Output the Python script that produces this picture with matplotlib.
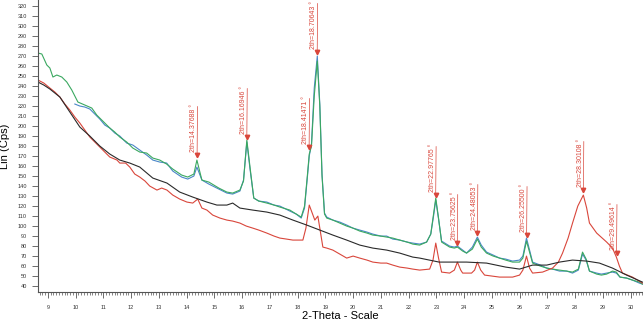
import numpy as np
import matplotlib.pyplot as plt
from matplotlib.ticker import MultipleLocator

plt.rcParams["font.family"] = "sans-serif"
plt.rcParams["font.sans-serif"] = ["Liberation Sans", "DejaVu Sans"]

RED = "#d9463b"
GREEN = "#3aa860"
BLUE = "#4a86c8"
BLACK = "#2a2a2a"

# scan 1 (green)
tt_green = [8.64, 8.78, 8.96, 9.07, 9.18, 9.32, 9.50, 9.68, 9.86, 10.08, 10.33, 10.58,
            10.76, 10.94, 11.05, 11.23, 11.41, 11.59, 11.84, 12.06, 12.31, 12.56, 12.78,
            13.03, 13.28, 13.50, 13.82, 14.04, 14.26, 14.37, 14.55, 14.80, 15.16, 15.45,
            15.66, 15.92, 16.05, 16.17, 16.28, 16.42, 16.60, 16.89, 17.15, 17.36, 17.72,
            17.95, 18.13, 18.25, 18.35, 18.42, 18.50, 18.60, 18.71, 18.80, 18.88, 18.97,
            19.05, 19.27, 19.52, 19.77, 19.99, 20.24, 20.50, 20.71, 21.00, 21.21, 21.43,
            21.68, 21.95, 22.15, 22.40, 22.65, 22.80, 22.90, 22.98, 23.08, 23.19, 23.48,
            23.65, 23.76, 23.95, 24.09, 24.30, 24.48, 24.62, 24.81, 25.05, 25.28, 25.50,
            25.75, 26.00, 26.12, 26.25, 26.38, 26.47, 26.75, 26.98, 27.19, 27.44, 27.70,
            27.91, 28.12, 28.27, 28.40, 28.52, 28.78, 28.95, 29.14, 29.35, 29.49, 29.62,
            29.86, 30.07, 30.32, 30.43]
cps_green = [273, 272, 261, 258, 249, 251, 249, 244, 236, 224, 221, 218,
             211, 206, 203, 198, 194, 189, 184, 178, 174, 173, 168,
             166, 162, 157, 151, 149, 152, 166, 146, 144, 138, 134,
             133, 136, 145, 186, 160, 128, 125, 123, 121, 119, 116,
             112, 109, 120, 150, 172, 180, 230, 265, 220, 150, 112,
             108, 106, 103, 100, 98, 95, 93, 91, 90, 89, 88,
             86, 84, 82, 81, 84, 92, 112, 128, 108, 84, 79,
             78, 79, 75, 73, 77, 87, 79, 73, 70, 68, 66,
             64, 64, 68, 85, 72, 63, 60, 58, 57, 56, 55,
             54, 57, 74, 67, 55, 52, 51, 52, 55, 54, 49,
             48, 46, 44, 42]

# scan 2 (blue)
tt_blue = [9.97, 10.15, 10.33, 10.51, 10.69, 10.87, 11.05, 11.23, 11.41, 11.59, 11.84,
           12.06, 12.31, 12.56, 12.78, 13.03, 13.28, 13.50, 13.82, 14.04, 14.26, 14.37,
           14.55, 14.80, 15.16, 15.45, 15.66, 15.92, 16.05, 16.17, 16.28, 16.42, 16.60,
           16.89, 17.15, 17.36, 17.72, 17.95, 18.13, 18.25, 18.35, 18.42, 18.50, 18.60,
           18.71, 18.80, 18.88, 18.97, 19.05, 19.27, 19.52, 19.77, 19.99, 20.24, 20.50,
           20.71, 21.00, 21.21, 21.43, 21.68, 21.95, 22.15, 22.40, 22.65, 22.80, 22.90,
           22.98, 23.08, 23.19, 23.48, 23.65, 23.76, 23.95, 24.09, 24.30, 24.48, 24.62,
           24.81, 25.05, 25.28, 25.50, 25.75, 26.00, 26.12, 26.25, 26.38, 26.47, 26.75,
           26.98, 27.19, 27.44, 27.70, 27.91, 28.12, 28.27, 28.40, 28.52, 28.78, 28.95,
           29.14, 29.35, 29.49, 29.62, 29.86, 30.07, 30.32, 30.43]
cps_blue = [222, 220, 219, 217, 212, 207, 201, 198, 193, 190, 183,
            181, 176, 171, 166, 164, 163, 155, 149, 147, 150, 159,
            146, 142, 137, 133, 132, 135, 146, 184, 158, 128, 125,
            124, 121, 120, 115, 112, 108, 118, 148, 170, 182, 238,
            270, 222, 152, 113, 109, 106, 104, 101, 98, 96, 94,
            92, 90, 90, 87, 86, 84, 83, 82, 84, 92, 110,
            126, 107, 85, 80, 79, 80, 76, 73, 79, 89, 81,
            74, 71, 68, 67, 65, 66, 70, 88, 74, 64, 61,
            58, 57, 55, 55, 53, 56, 72, 66, 55, 53, 52,
            53, 54, 53, 49, 48, 46, 43, 42]

# scan 3 (red)
tt_red = [8.64, 8.85, 9.07, 9.25, 9.43, 9.61, 9.79, 9.97, 10.15, 10.33, 10.51, 10.69,
          10.87, 11.05, 11.23, 11.49, 11.59, 11.80, 11.95, 12.13, 12.31, 12.50, 12.67,
          12.93, 13.10, 13.29, 13.50, 13.75, 14.01, 14.22, 14.40, 14.55, 14.73, 14.94,
          15.20, 15.45, 15.66, 15.92, 16.15, 16.38, 16.60, 16.89, 17.15, 17.36, 17.60,
          17.83, 18.19, 18.30, 18.42, 18.54, 18.62, 18.73, 18.80, 18.91, 19.05, 19.27,
          19.52, 19.77, 20.00, 20.24, 20.50, 20.71, 21.00, 21.21, 21.43, 21.68, 21.95,
          22.15, 22.40, 22.76, 22.88, 22.98, 23.08, 23.19, 23.48, 23.65, 23.76, 23.88,
          23.95, 24.27, 24.38, 24.48, 24.60, 24.74, 25.28, 25.75, 26.00, 26.12, 26.25,
          26.36, 26.47, 26.83, 27.19, 27.40, 27.55, 27.75, 27.91, 28.10, 28.30, 28.42,
          28.52, 28.78, 29.14, 29.35, 29.49, 29.60, 29.71, 30.07, 30.43]
cps_red = [246, 243, 238, 234, 229, 222, 216, 209, 203, 196, 189, 184,
           179, 174, 169, 166, 163, 163, 159, 152, 149, 145, 140,
           136, 138, 136, 131, 127, 124, 123, 127, 118, 116, 111,
           108, 106, 105, 103, 100, 98, 96, 93, 90, 88, 87,
           86, 86, 98, 121, 112, 106, 110, 98, 79, 78, 76,
           72, 68, 70, 68, 66, 64, 63, 63, 61, 59, 58,
           57, 56, 57, 66, 83, 68, 54, 53, 56, 64, 56,
           53, 53, 56, 64, 56, 51, 49, 49, 51, 56, 70,
           58, 53, 54, 58, 64, 73, 88, 103, 120, 131, 118,
           103, 93, 84, 78, 69, 60, 53, 49, 43]

# scan 4 (black)
tt_black = [8.64, 8.85, 9.07, 9.43, 9.79, 10.15, 10.51, 10.87, 11.23, 11.59, 11.95,
            12.13, 12.31, 12.78, 13.29, 13.75, 14.22, 14.73, 15.09, 15.45, 15.66, 15.92,
            16.38, 16.89, 17.36, 17.83, 18.33, 18.80, 19.27, 19.77, 20.24, 20.71, 21.21,
            21.68, 22.15, 22.40, 23.10, 24.09, 24.81, 25.50, 26.00, 26.47, 26.98, 27.44,
            27.91, 28.42, 28.88, 29.35, 29.86, 30.43]
cps_black = [244, 241, 237, 229, 214, 199, 190, 180, 172, 166, 163,
             161, 159, 148, 143, 134, 129, 124, 121, 121, 123, 118,
             116, 114, 111, 106, 101, 96, 91, 86, 81, 78, 76,
             73, 69, 68, 64, 64, 63, 59, 57, 61, 61, 64,
             66, 65, 63, 58, 51, 44]

# marked peaks
peak_pos = [14.37688, 16.16946, 18.41471, 18.70643, 22.97765, 23.75625,
            24.48053, 26.25500, 28.30108, 29.49614]
peak_mark = [171, 189, 179, 274, 131, 83, 93, 91, 136, 73]

fig = plt.figure(figsize=(6.43, 3.26), dpi=100)
ax = fig.add_axes([0.059, 0.104, 0.941, 0.896])

ax.plot(tt_blue, cps_blue, color=BLUE, lw=0.8)
ax.plot(tt_green, cps_green, color=GREEN, lw=0.8)
ax.plot(tt_red, cps_red, color=RED, lw=0.8)
ax.plot(tt_black, cps_black, color=BLACK, lw=0.8)

for pos, h in zip(peak_pos, peak_mark):
    ax.plot(pos, h, marker="v", color=RED, ms=3.2, mec=RED)
    ax.annotate("", xy=(pos, h), xytext=(0.3, 35), textcoords="offset points",
                arrowprops=dict(arrowstyle="-", color=RED, lw=0.5,
                                shrinkA=0, shrinkB=0))
    ax.annotate(f"2th={pos:.5f} \u00b0", xy=(pos, h), xytext=(0.2, 2.5),
                textcoords="offset points", rotation=90, ha="right",
                va="bottom", fontsize=5, color=RED)

ax.set_xlim(8.64, 30.45)
ax.set_ylim(34, 326)
ax.xaxis.set_major_locator(MultipleLocator(1))
ax.xaxis.set_minor_locator(MultipleLocator(0.1))
ax.set_yticks(np.arange(40, 321, 10))

for side in ["top", "right"]:
    ax.spines[side].set_visible(False)
for side in ["left", "bottom"]:
    ax.spines[side].set_color("#555555")
    ax.spines[side].set_linewidth(0.8)

ax.tick_params(which="major", length=4, width=0.6, color="#555555",
               labelsize=4, labelcolor="#333333", pad=4)
ax.tick_params(axis="x", which="major", pad=5)
ax.tick_params(which="minor", length=2, width=0.5, color="#555555")

ax.set_xlabel("2-Theta - Scale", fontsize=8, labelpad=1)
ax.set_ylabel("Lin (Cps)", fontsize=8, labelpad=5)

fig.savefig("out.png", dpi=100)
